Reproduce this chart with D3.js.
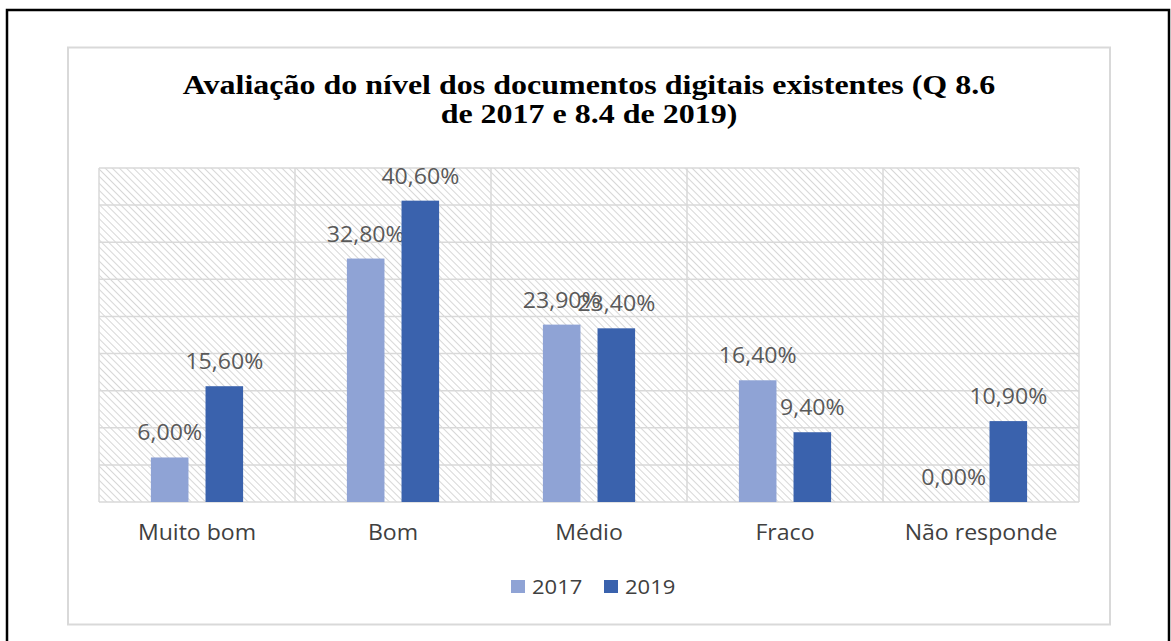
<!DOCTYPE html>
<html>
<head>
<meta charset="utf-8">
<script src="https://cdn.jsdelivr.net/npm/d3@7"></script>
<style>
  body { margin: 0; background: #fff; }
  svg { display: block; }
</style>
</head>
<body>
<svg width="1171" height="641"></svg>
<script>
// chart data
var categories = ["Muito bom", "Bom", "Médio", "Fraco", "Não responde"];
var seriesNames = ["2017", "2019"];
var values2017 = [6.0, 32.8, 23.9, 16.4, 0.0];
var values2019 = [15.6, 40.6, 23.4, 9.4, 10.9];
var titleLines = ["Avaliação do nível dos documentos digitais existentes (Q 8.6", "de 2017 e 8.4 de 2019)"];
var colors = ["#8FA3D5", "#3A62AD"];

var svg = d3.select("svg");
var stretch = 1.1; // picture looks widened horizontally

// outer black frame
svg.append("rect")
    .attr("x", 7).attr("y", 10)
    .attr("width", 1162).attr("height", 640)
    .attr("fill", "none").attr("stroke", "#000").attr("stroke-width", 2.5);

// chart frame
svg.append("rect")
    .attr("x", 68).attr("y", 47.5)
    .attr("width", 1042).attr("height", 577)
    .attr("fill", "#fff").attr("stroke", "#d9d9d9").attr("stroke-width", 2);

// hatch pattern for plot area (lines running top-left to bottom-right)
var defs = svg.append("defs");
var pat = defs.append("pattern")
    .attr("id", "hatch")
    .attr("patternUnits", "userSpaceOnUse")
    .attr("width", 5).attr("height", 5)
    .attr("patternTransform", "rotate(-45)");
pat.append("rect").attr("width", 5).attr("height", 5).attr("fill", "#fff");
pat.append("line")
    .attr("x1", 0).attr("y1", 0).attr("x2", 0).attr("y2", 5)
    .attr("stroke", "#d0d0d0").attr("stroke-width", 1.7);

var plotLeft = 99, plotRight = 1079, plotTop = 168, plotBottom = 502;

var x0 = d3.scaleBand().domain(categories).range([plotLeft, plotRight]);
var x1 = d3.scaleBand().domain(seriesNames).range([0, x0.bandwidth()])
    .paddingInner(0.312).paddingOuter(0.95);
var y = d3.scaleLinear().domain([0, 45]).range([plotBottom, plotTop]);

svg.append("rect")
    .attr("x", plotLeft).attr("y", plotTop)
    .attr("width", plotRight - plotLeft).attr("height", plotBottom - plotTop)
    .attr("fill", "url(#hatch)");

// horizontal gridlines
svg.append("g").selectAll("line")
    .data(d3.range(0, 46, 5))
    .enter().append("line")
    .attr("x1", plotLeft).attr("x2", plotRight)
    .attr("y1", function (d) { return y(d); })
    .attr("y2", function (d) { return y(d); })
    .attr("stroke", "#d9d9d9").attr("stroke-width", 1.5);

// vertical gridlines at category edges
var edges = categories.map(function (c) { return x0(c); }).concat([plotRight]);
svg.append("g").selectAll("line")
    .data(edges)
    .enter().append("line")
    .attr("x1", function (d) { return d; }).attr("x2", function (d) { return d; })
    .attr("y1", plotTop).attr("y2", plotBottom)
    .attr("stroke", "#d9d9d9").attr("stroke-width", 1.5);

// bars
var series = [values2017, values2019];
series.forEach(function (vals, si) {
    var g = svg.append("g");
    g.selectAll("rect")
        .data(vals)
        .enter().append("rect")
        .attr("x", function (d, i) { return x0(categories[i]) + x1(seriesNames[si]); })
        .attr("y", function (d) { return y(d); })
        .attr("width", x1.bandwidth())
        .attr("height", function (d) { return plotBottom - y(d); })
        .attr("fill", colors[si]);

    g.selectAll("text")
        .data(vals)
        .enter().append("text")
        .attr("transform", function (d, i) {
            var cx = x0(categories[i]) + x1(seriesNames[si]) + x1.bandwidth() / 2;
            return "translate(" + cx + "," + (y(d) - 17) + ") scale(" + stretch + ",1)";
        })
        .attr("text-anchor", "middle")
        .attr("font-family", "'Open Sans', sans-serif")
        .attr("font-size", "21px")
        .attr("fill", "#595959")
        .text(function (d) { return d.toFixed(2).replace(".", ",") + "%"; });
});

// category labels
svg.append("g").selectAll("text")
    .data(categories)
    .enter().append("text")
    .attr("transform", function (d) {
        return "translate(" + (x0(d) + x0.bandwidth() / 2) + ",540) scale(" + stretch + ",1)";
    })
    .attr("text-anchor", "middle")
    .attr("font-family", "'Open Sans', sans-serif")
    .attr("font-size", "21px")
    .attr("fill", "#404040")
    .text(function (d) { return d; });

// title
svg.append("g").selectAll("text")
    .data(titleLines)
    .enter().append("text")
    .attr("transform", function (d, i) {
        return "translate(589," + (94 + i * 29) + ") scale(1.185,1)";
    })
    .attr("text-anchor", "middle")
    .attr("font-family", "'Liberation Serif', serif")
    .attr("font-weight", "bold")
    .attr("font-size", "27px")
    .attr("fill", "#000")
    .text(function (d) { return d; });

// legend
var legendX = [511, 604];
var lg = svg.append("g").selectAll("g")
    .data(seriesNames)
    .enter().append("g")
    .attr("transform", function (d, i) { return "translate(" + legendX[i] + ",580)"; });
lg.append("rect")
    .attr("width", 14).attr("height", 13)
    .attr("fill", function (d, i) { return colors[i]; });
lg.append("text")
    .attr("transform", "translate(21,14) scale(" + stretch + ",1)")
    .attr("font-family", "'Open Sans', sans-serif")
    .attr("font-size", "20px")
    .attr("fill", "#404040")
    .text(function (d) { return d; });
</script>
</body>
</html>
